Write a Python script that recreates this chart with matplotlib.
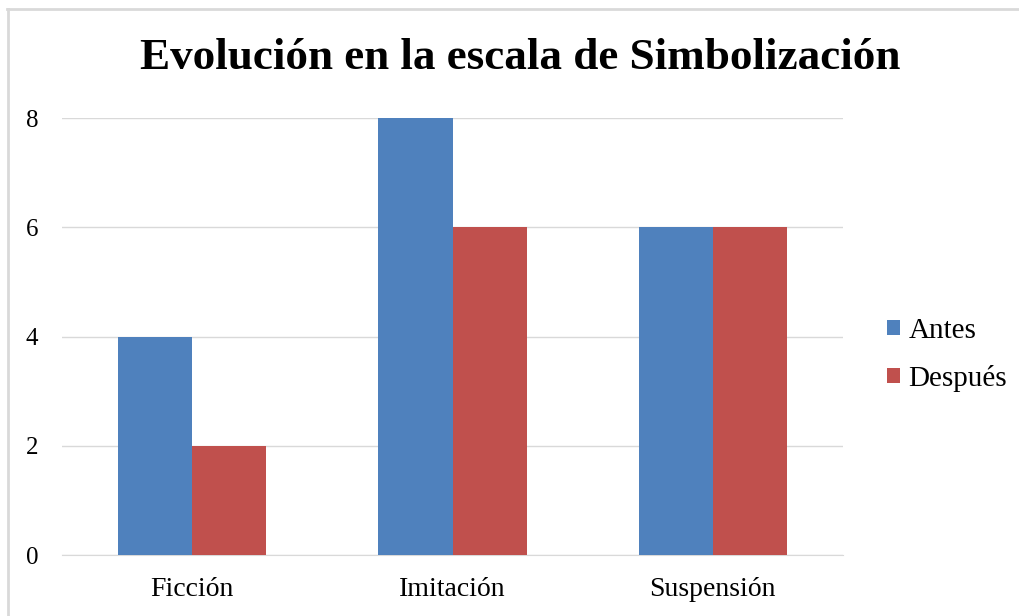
import numpy as np
import matplotlib.pyplot as plt
from matplotlib.lines import Line2D

# Datos del grafico
categorias = ["Ficción", "Imitación", "Suspensión"]
antes = [4, 8, 6]
despues = [2, 6, 6]
ticks_y = [0, 2, 4, 6, 8]

plt.rcParams["font.family"] = ["Liberation Serif", "DejaVu Serif"]

fig = plt.figure(figsize=(10.2, 6.16), dpi=100)
ax = fig.add_axes([0.0608, 0.099, 0.7657, 0.709])

x = np.arange(len(categorias))
ancho = 0.285
ax.bar(x - ancho / 2, antes, ancho, color="#4F81BD", label="Antes", zorder=3)
ax.bar(x + ancho / 2, despues, ancho, color="#C0504D", label="Después", zorder=3)

ax.set_xlim(-0.5, 2.5)
ax.set_ylim(0, 8)
ax.set_yticks(ticks_y)
ax.set_xticks(x)
ax.set_xticklabels(categorias)
ax.tick_params(axis="both", length=0)
ax.tick_params(axis="y", pad=17, labelsize=18)
ax.tick_params(axis="x", pad=16, labelsize=20)
ax.grid(axis="y", color="#D9D9D9", linewidth=1, zorder=0)
for lado in ["top", "right", "left"]:
    ax.spines[lado].set_visible(False)
ax.spines["bottom"].set_color("#D9D9D9")

fig.text(0.51, 0.906, "Evolución en la escala de Simbolización",
         ha="center", va="center", fontsize=32.5, fontweight="bold")

fig.legend(*ax.get_legend_handles_labels(), loc="center left",
           bbox_to_anchor=(0.8696, 0.4237), bbox_transform=fig.transFigure,
           frameon=False, fontsize=21, borderpad=0, borderaxespad=0,
           handlelength=0.45, handleheight=0.45, handletextpad=0.28,
           labelspacing=0.72)

# borde del area del grafico (recortado a derecha y abajo)
fig.add_artist(Line2D([8, 8], [0, 607], transform=None, color="#D9D9D9", linewidth=2))
fig.add_artist(Line2D([7, 1020], [607, 607], transform=None, color="#D9D9D9", linewidth=2))

fig.savefig("out.png", dpi=100)
